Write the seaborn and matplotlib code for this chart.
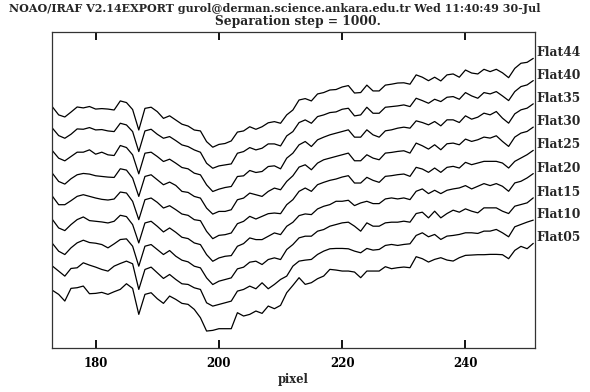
import matplotlib
matplotlib.use("Agg")
import matplotlib.pyplot as plt
import pandas as pd
import seaborn as sns

# Pixel coordinate along the dispersion axis
pixel = list(range(173, 252))

# Flat-field spectra (counts), listed from the bottom trace to the top one
flat05 = [2394, 2222, 1935, 2480, 2508, 2580, 2250, 2265, 2308, 2222, 2336, 2437, 2680, 2480,
          1362, 2222, 2293, 2035, 1835, 2150, 2007, 1835, 1792, 1577, 1219, 645, 674, 746, 746,
          746, 1434, 1291, 1362, 1506, 1405, 1720, 1606, 1749, 2294, 2609, 2939,
          2652, 2724, 2896, 3010, 3297, 3268, 3225, 3225, 3182, 2939, 3225, 3225, 3225, 3412, 3326,
          3369, 3397, 3369, 3842, 3756, 3612, 3727, 3799, 3698, 3655, 3799, 3899,
          3913, 3928, 3928, 3942, 3942, 3928, 3756, 4114, 4286, 4186, 4415]
flat10 = [2437, 2222, 2007, 2336, 2365, 2580, 2480, 2394, 2293, 2222, 2437, 2551, 2652, 2537,
          1434, 2293, 2394, 2150, 1907, 2078, 1864, 1677, 1649, 1505, 1434, 860, 717, 789, 860,
          932, 1362, 1434, 1577, 1463, 1720, 1463, 1649, 1864, 2007, 2437, 2652,
          2695, 2724, 2939, 3082, 3182, 3197, 3197, 3182, 3082, 3010, 3197, 3125, 3154, 3326, 3369,
          3326, 3369, 3397, 3756, 3870, 3698, 3799, 3584, 3727, 3756, 3799, 3870,
          3870, 3842, 3942, 3942, 4014, 3870, 3698, 4128, 4229, 4329, 4415]
flat15 = [2408, 2078, 1935, 2222, 2437, 2551, 2451, 2422, 2365, 2222, 2394, 2580, 2609, 2293,
          1434, 2293, 2365, 2150, 1935, 2107, 1864, 1692, 1620, 1434, 1362, 932, 645, 789, 860,
          932, 1319, 1391, 1606, 1649, 1506, 1720, 1792, 1720, 2150, 2365, 2652,
          2724, 2724, 2939, 3010, 3154, 3225, 3297, 3326, 3154, 2939, 3297, 3154, 3154, 3297, 3326,
          3326, 3369, 3326, 3698, 3756, 3512, 3799, 3512, 3698, 3842, 3756, 3899,
          3799, 3727, 3942, 3942, 3942, 3799, 3698, 4014, 4085, 4157, 4372]
flat20 = [2437, 2078, 1964, 2222, 2437, 2551, 2394, 2365, 2336, 2293, 2365, 2623, 2566, 2222,
          1434, 2293, 2365, 2150, 1907, 2078, 1892, 1677, 1620, 1434, 1362, 932, 645, 789, 860,
          889, 1291, 1405, 1649, 1577, 1577, 1720, 1864, 1792, 2150, 2322, 2609,
          2681, 2652, 2896, 3010, 3082, 3225, 3225, 3268, 3039, 3154, 3225, 3125, 3125, 3326, 3369,
          3326, 3369, 3297, 3655, 3756, 3555, 3698, 3555, 3698, 3756, 3799, 3899,
          3756, 3870, 3985, 3899, 3985, 3870, 3655, 4014, 4085, 4229, 4415]
flat25 = [2437, 2078, 2078, 2250, 2437, 2508, 2437, 2365, 2308, 2279, 2322, 2623, 2580, 2222,
          1434, 2293, 2365, 2179, 1935, 2035, 1864, 1677, 1620, 1434, 1391, 932, 617, 760, 789,
          861, 1262, 1362, 1577, 1463, 1577, 1692, 1720, 1692, 2079, 2294, 2652,
          2795, 2652, 2939, 3039, 3125, 3182, 3268, 3326, 3010, 3010, 3254, 3125, 3039, 3297, 3326,
          3369, 3397, 3297, 3684, 3612, 3469, 3655, 3469, 3684, 3727, 3655, 3899,
          3799, 3870, 3942, 3942, 3942, 3870, 3655, 3942, 4085, 4229, 4415]
flat30 = [2422, 2078, 1964, 2193, 2365, 2422, 2394, 2322, 2293, 2265, 2250, 2623, 2566, 2222,
          1434, 2293, 2365, 2150, 1935, 2050, 1907, 1649, 1606, 1434, 1362, 932, 674, 789, 789,
          861, 1291, 1362, 1577, 1506, 1434, 1649, 1792, 1720, 2079, 2322, 2695,
          2795, 2580, 2867, 3010, 3082, 3154, 3225, 3297, 2967, 2967, 3225, 3082, 3010, 3297, 3326,
          3369, 3397, 3297, 3727, 3612, 3469, 3655, 3440, 3698, 3727, 3655, 3899,
          3799, 3870, 3985, 3942, 4042, 3799, 3584, 3985, 4157, 4229, 4415]
flat35 = [2394, 2078, 1964, 2150, 2336, 2336, 2437, 2250, 2336, 2222, 2193, 2623, 2537, 2222,
          1405, 2293, 2336, 2150, 1935, 2035, 1864, 1677, 1620, 1434, 1362, 932, 645, 746, 817,
          861, 1291, 1319, 1549, 1463, 1506, 1720, 1749, 1620, 2079, 2294, 2652,
          2795, 2580, 2867, 2982, 3082, 3154, 3225, 3297, 2982, 2982, 3297, 3082, 2982, 3254, 3297,
          3369, 3412, 3369, 3684, 3612, 3512, 3655, 3469, 3727, 3727, 3612, 3899,
          3756, 3842, 4014, 3942, 4085, 3799, 3584, 3985, 4157, 4229, 4415]
flat40 = [2365, 2050, 1935, 2107, 2336, 2322, 2394, 2293, 2308, 2250, 2222, 2580, 2508, 2222,
          1362, 2250, 2322, 2107, 1935, 2007, 1835, 1649, 1577, 1434, 1333, 860, 645, 746, 789,
          832, 1291, 1362, 1534, 1434, 1506, 1692, 1692, 1606, 2036, 2222, 2609,
          2724, 2580, 2867, 2939, 3039, 3068, 3182, 3225, 2896, 2939, 3268, 3010, 3010, 3268, 3297,
          3326, 3369, 3297, 3655, 3555, 3440, 3612, 3512, 3698, 3727, 3612, 3899,
          3756, 3655, 3899, 3842, 3942, 3756, 3555, 3942, 4157, 4229, 4415]
flat44 = [2280, 1940, 1850, 2060, 2280, 2240, 2300, 2190, 2210, 2190, 2150, 2540, 2470, 2170,
          1290, 2220, 2270, 2080, 1790, 1900, 1720, 1540, 1460, 1290, 1250, 790, 550, 670, 710,
          820, 1200, 1250, 1430, 1320, 1430, 1600, 1650, 1580, 1940, 2150, 2580,
          2640, 2540, 2840, 2900, 3010, 3030, 3140, 3200, 2880, 2900, 3220, 2970, 2970, 3220, 3260,
          3310, 3320, 3260, 3660, 3560, 3410, 3560, 3400, 3660, 3700, 3560, 3870,
          3740, 3700, 3900, 3800, 3900, 3750, 3540, 3940, 4160, 4200, 4370]

spectrum_names = ["Flat05", "Flat10", "Flat15", "Flat20", "Flat25",
                  "Flat30", "Flat35", "Flat40", "Flat44"]
spectra = [flat05, flat10, flat15, flat20, flat25, flat30, flat35, flat40, flat44]
separation_step = 1000

header = "NOAO/IRAF V2.14EXPORT gurol@derman.science.ankara.edu.tr Wed 11:40:49 30-Jul"
subtitle = f"Separation step = {separation_step}."

# Long-form table with each spectrum shifted by the separation step
rows = []
for i, (name, flux) in enumerate(zip(spectrum_names, spectra)):
    for x, f in zip(pixel, flux):
        rows.append({"pixel": x, "flux": f + i * separation_step, "spectrum": name})
df = pd.DataFrame(rows)

sns.set_style("white")
plt.rcParams["font.family"] = ["DejaVu Serif"]
plt.rcParams["font.weight"] = "bold"

W, H = 590, 392
fig = plt.figure(figsize=(W / 100, H / 100), dpi=100)
ax = fig.add_axes([52 / W, 1 - 348 / H, (535 - 52) / W, (348 - 32) / H])

sns.lineplot(data=df, x="pixel", y="flux", units="spectrum", estimator=None,
             color="black", linewidth=0.9, ax=ax, legend=False)

ax.set_xlim(172.92, 251.28)
ax.set_ylim(-84, 13504)
ax.set_xticks([180, 200, 220, 240])
ax.set_yticks([])
ax.tick_params(axis="x", direction="in", length=6, width=1.3, top=True,
               bottom=True, labelsize=8.5, pad=6.5, colors="black")
for lbl in ax.get_xticklabels():
    lbl.set_fontweight("bold")
for sp in ax.spines.values():
    sp.set_linewidth(0.9)
    sp.set_color("#333333")
ax.set_xlabel("pixel", fontsize=8.3, fontweight="bold", labelpad=1.8)
ax.set_ylabel("")

# Name of each spectrum at the end of its trace
for i, (name, flux) in enumerate(zip(spectrum_names, spectra)):
    ax.annotate(name, xy=(pixel[-1], flux[-1] + i * separation_step),
                xytext=(2.5, 4), textcoords="offset points", ha="left", va="center",
                fontsize=8.8, fontweight="bold", annotation_clip=False)

fig.text(9 / W, 1 - 9 / H, header, ha="left", va="center", fontsize=8.0, fontweight="bold")
fig.text(298 / W, 1 - 21 / H, subtitle, ha="center", va="center", fontsize=8.8, fontweight="bold")

fig.savefig("out.png", dpi=100, facecolor="white")
